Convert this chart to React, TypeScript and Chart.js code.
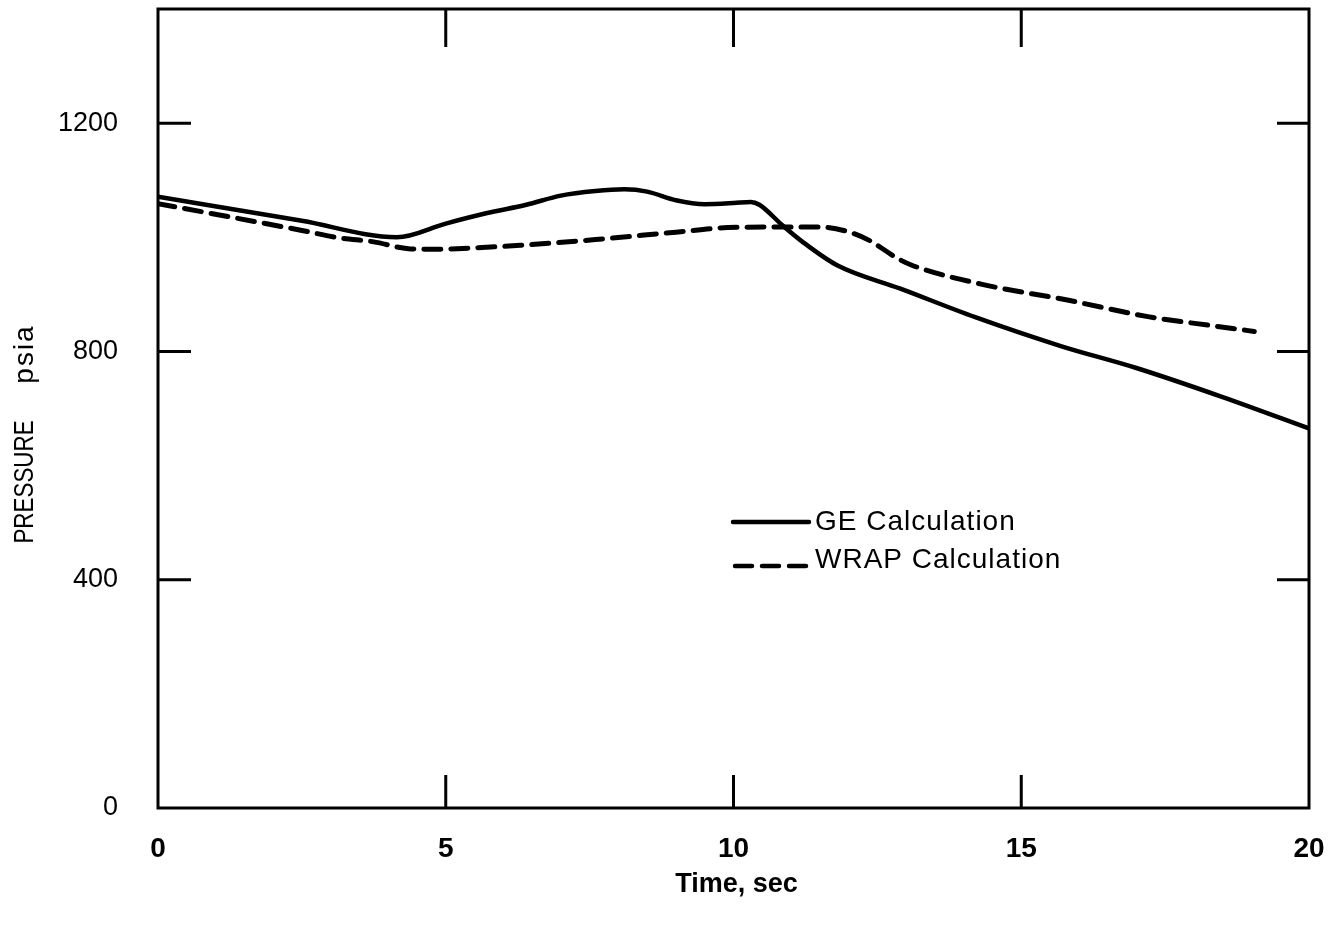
import { useEffect, useRef } from 'react';
import { Chart, registerables } from 'chart.js';

Chart.register(...registerables);

// ---- data ----
const timeGE = [0, 2.5, 4.15, 5.0, 5.7, 6.4, 7.0, 7.6, 8.1, 8.5, 9.0, 9.5, 10.0, 10.3, 10.45, 10.85, 11.2, 11.8, 12.9, 14.2, 15.7, 17.0, 18.5, 20];
const pressureGE = [1071, 1029, 1000, 1024, 1042, 1057, 1073, 1081, 1084, 1080, 1065, 1058, 1060, 1062, 1057, 1021, 992, 951, 910, 860, 809, 771, 720, 665];
const timeWRAP = [0, 2.5, 3.15, 3.75, 4.35, 4.8, 5.4, 6.3, 7.6, 9.0, 9.9, 10.8, 11.5, 11.95, 12.35, 12.85, 13.1, 14.3, 15.8, 17.2, 18.4, 19.05];
const pressureWRAP = [1059, 1012, 999, 992, 980, 979, 981, 986, 996, 1009, 1017, 1018, 1018, 1011, 995, 963, 951, 918, 890, 861, 844, 835];

const seriesNames = ['GE Calculation', 'WRAP Calculation'];
const xTickValues = [0, 5, 10, 15, 20];
const yTickValues = [0, 400, 800, 1200];
const xInnerMarks = [5, 10, 15];
const yInnerMarks = [400, 800, 1200];
const xTitle = 'Time, sec';
const yTitleMain = 'PRESSURE';
const yTitleUnit = 'psia';

const FONT = '"Liberation Sans", Arial, Helvetica, sans-serif';

const decorPlugin = {
  id: 'decor',
  afterDraw(chart: any) {
    const { ctx, chartArea: a, scales } = chart;
    const x = scales.x;
    const y = scales.y;
    ctx.save();
    ctx.strokeStyle = '#000';
    ctx.fillStyle = '#000';
    ctx.lineWidth = 3;
    ctx.lineCap = 'butt';
    // frame
    ctx.strokeRect(a.left, a.top, a.right - a.left, a.bottom - a.top);
    // inward tick marks
    ctx.beginPath();
    for (const v of xInnerMarks) {
      const px = x.getPixelForValue(v);
      ctx.moveTo(px, a.bottom);
      ctx.lineTo(px, a.bottom - 33);
      ctx.moveTo(px, a.top);
      ctx.lineTo(px, a.top + 38);
    }
    for (const v of yInnerMarks) {
      const py = y.getPixelForValue(v);
      ctx.moveTo(a.left, py);
      ctx.lineTo(a.left + 33, py);
      ctx.moveTo(a.right, py);
      ctx.lineTo(a.right - 32, py);
    }
    ctx.stroke();

    // legend
    const lx0 = 733;
    const lx1 = 809;
    ctx.lineWidth = 4.5;
    ctx.lineCap = 'round';
    ctx.beginPath();
    ctx.moveTo(lx0, 522);
    ctx.lineTo(lx1, 522);
    ctx.stroke();
    ctx.setLineDash([17, 10]);
    ctx.beginPath();
    ctx.moveTo(lx0 + 2, 566);
    ctx.lineTo(lx1, 566);
    ctx.stroke();
    ctx.setLineDash([]);
    ctx.font = `28px ${FONT}`;
    (ctx as any).letterSpacing = '1px';
    ctx.textAlign = 'left';
    ctx.textBaseline = 'alphabetic';
    ctx.fillText(seriesNames[0], 815, 530);
    ctx.fillText(seriesNames[1], 815, 568);
    (ctx as any).letterSpacing = '0px';

    // x title
    ctx.font = `bold 27px ${FONT}`;
    ctx.textAlign = 'center';
    ctx.textBaseline = 'middle';
    ctx.fillText(xTitle, (a.left + a.right) / 2 + 3, 885);

    // y title
    ctx.save();
    ctx.translate(33, 482);
    ctx.rotate(-Math.PI / 2);
    ctx.scale(0.8, 1);
    ctx.font = `28px ${FONT}`;
    ctx.textAlign = 'center';
    ctx.textBaseline = 'alphabetic';
    ctx.fillText(yTitleMain, 0, 0);
    ctx.restore();
    ctx.save();
    ctx.translate(33, 354);
    ctx.rotate(-Math.PI / 2);
    ctx.font = `28px ${FONT}`;
    (ctx as any).letterSpacing = '2px';
    ctx.textAlign = 'center';
    ctx.textBaseline = 'alphabetic';
    ctx.fillText(yTitleUnit, 0, 0);
    ctx.restore();

    ctx.restore();
  },
};

export default function App() {
  const ref = useRef<HTMLCanvasElement | null>(null);
  useEffect(() => {
    document.body.style.margin = '0';
    const canvas = ref.current;
    if (!canvas) return;
    const chart = new Chart(canvas, {
      type: 'line',
      data: {
        datasets: [
          {
            label: seriesNames[0],
            data: timeGE.map((t, i) => ({ x: t, y: pressureGE[i] })),
            borderColor: '#000',
            borderWidth: 4.5,
            pointRadius: 0,
            cubicInterpolationMode: 'monotone',
            fill: false,
          },
          {
            label: seriesNames[1],
            data: timeWRAP.map((t, i) => ({ x: t, y: pressureWRAP[i] })),
            borderColor: '#000',
            borderWidth: 5,
            borderDash: [17, 10],
            borderCapStyle: 'round',
            pointRadius: 0,
            cubicInterpolationMode: 'monotone',
            fill: false,
          },
        ],
      },
      options: {
        animation: false,
        responsive: false,
        devicePixelRatio: 1,
        layout: { padding: { top: 9, right: 21, left: 0, bottom: 0 } },
        plugins: { legend: { display: false }, tooltip: { enabled: false }, title: { display: false } },
        scales: {
          x: {
            type: 'linear',
            position: 'bottom',
            min: 0,
            max: 20,
            grid: { display: false, drawTicks: false },
            border: { display: false },
            afterBuildTicks: (s: any) => {
              s.ticks = xTickValues.map((v) => ({ value: v }));
            },
            afterFit: (s: any) => {
              s.height = 119;
              s.paddingLeft = 0;
              s.paddingRight = 0;
              s.paddingTop = 0;
              s.paddingBottom = 0;
            },
            ticks: {
              color: '#000',
              font: { family: FONT, size: 28, weight: 'bold' },
              padding: 24,
              maxRotation: 0,
              autoSkip: false,
              callback: (v: any) => String(v),
            },
          },
          y: {
            type: 'linear',
            min: 0,
            max: 1400,
            grid: { display: false, drawTicks: false },
            border: { display: false },
            afterBuildTicks: (s: any) => {
              s.ticks = yTickValues.map((v) => ({ value: v }));
            },
            afterFit: (s: any) => {
              s.width = 158;
              s.paddingLeft = 0;
              s.paddingRight = 0;
              s.paddingTop = 0;
              s.paddingBottom = 0;
            },
            ticks: {
              color: '#000',
              font: { family: FONT, size: 27 },
              padding: 40,
              autoSkip: false,
              callback: (v: any) => String(v),
            },
          },
        },
      },
      plugins: [decorPlugin],
    } as any);
    return () => chart.destroy();
  }, []);
  return (
    <div style={{ width: 1330, height: 927, background: '#fff' }}>
      <canvas ref={ref} width={1330} height={927} style={{ display: 'block' }} />
    </div>
  );
}
